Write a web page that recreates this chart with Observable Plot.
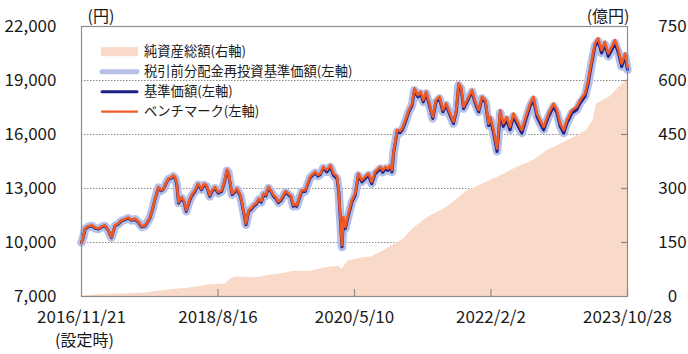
<!DOCTYPE html>
<html><head><meta charset="utf-8">
<script src="https://cdn.jsdelivr.net/npm/d3@7"></script>
<script src="https://cdn.jsdelivr.net/npm/@observablehq/plot@0.6"></script>
<style>body{margin:0;background:#fff}</style>
</head><body><div id="chart"></div>
<script>
// ---- data ----
const dates = [
"2016-11-21","2016-11-28","2016-12-08","2016-12-22","2017-01-08","2017-01-24","2017-02-08","2017-02-24","2017-03-10","2017-03-25",
"2017-04-09","2017-04-25","2017-05-10","2017-05-25","2017-06-10","2017-06-26","2017-07-11","2017-07-27","2017-08-12","2017-08-27",
"2017-09-12","2017-10-05","2017-10-17","2017-10-28","2017-11-13","2017-11-25","2017-12-06","2017-12-18","2017-12-29","2018-01-10",
"2018-01-21","2018-01-30","2018-02-06","2018-02-14","2018-03-01","2018-03-12","2018-03-22","2018-04-04","2018-04-15","2018-05-01",
"2018-05-16","2018-05-31","2018-06-12","2018-06-24","2018-07-09","2018-07-20","2018-08-02","2018-08-17","2018-09-02","2018-09-15",
"2018-09-27","2018-10-04","2018-10-12","2018-10-20","2018-11-01","2018-11-12","2018-11-28","2018-12-12","2018-12-24","2019-01-05",
"2019-01-17","2019-01-28","2019-02-10","2019-02-21","2019-03-05","2019-03-15","2019-03-26","2019-04-07","2019-04-18","2019-04-30",
"2019-05-12","2019-05-23","2019-06-04","2019-06-15","2019-06-26","2019-07-08","2019-07-20","2019-07-31","2019-08-08","2019-08-16",
"2019-08-28","2019-09-09","2019-09-24","2019-10-05","2019-10-17","2019-10-29","2019-11-10","2019-11-22","2019-12-03","2019-12-18",
"2020-01-03","2020-01-19","2020-02-03","2020-02-19","2020-02-27","2020-03-06","2020-03-13","2020-03-20","2020-03-28","2020-04-12",
"2020-04-28","2020-05-13","2020-05-28","2020-06-13","2020-06-28","2020-07-14","2020-07-29","2020-08-14","2020-09-07","2020-09-18",
"2020-09-30","2020-10-12","2020-10-23","2020-10-31","2020-11-08","2020-11-24","2020-12-08","2020-12-17","2021-01-01","2021-01-17",
"2021-02-01","2021-02-12","2021-02-28","2021-03-12","2021-03-25","2021-04-07","2021-04-22","2021-05-08","2021-05-23","2021-06-08",
"2021-06-24","2021-07-09","2021-07-27","2021-08-12","2021-08-25","2021-09-05","2021-09-16","2021-09-28","2021-10-14","2021-11-06",
"2021-11-21","2021-12-07","2021-12-22","2022-01-07","2022-01-22","2022-01-30","2022-02-14","2022-03-02","2022-03-17","2022-03-31",
"2022-04-16","2022-05-01","2022-05-17","2022-06-01","2022-06-25","2022-07-18","2022-08-02","2022-08-18","2022-09-03","2022-09-18",
"2022-10-04","2022-10-27","2022-11-19","2022-12-05","2022-12-20","2023-01-05","2023-01-20","2023-02-12","2023-03-07","2023-03-22",
"2023-04-14","2023-04-29","2023-05-15","2023-05-30","2023-06-14","2023-06-30","2023-07-15","2023-07-31","2023-08-16","2023-08-31",
"2023-09-16","2023-10-01","2023-10-17","2023-10-28"];

// ベンチマーク (円)
const benchmark = [
10000,10250,10780,10900,10950,10820,10780,10900,10950,10700,
10300,10950,11050,11230,11300,11380,11260,11320,11150,10900,
10950,11410,11900,12440,13080,12900,12990,13300,13550,13600,
13730,13600,13270,12250,12530,12300,11790,12300,12620,12900,
13270,12990,13250,13180,12620,12900,13080,12800,12900,13400,
14050,13900,13280,12720,12850,13000,12630,11790,11050,11790,
11900,12070,12200,12440,12300,12720,12650,13090,12900,12630,
12500,12270,12400,12630,12850,12720,12600,12070,12150,12070,
12500,12900,12900,13250,13650,13800,13930,13750,13830,14200,
14020,14300,13830,13650,12900,11240,9850,11420,10870,11610,
12350,12720,13830,13470,13650,13830,13370,13930,14200,14000,
14200,14100,14300,14020,15130,16250,16200,16340,16800,17360,
17730,18560,18190,18380,17910,18380,17730,16990,17910,18100,
17360,17730,17170,16710,17360,18840,18650,17540,17910,18470,
17820,17360,18100,17900,16600,16980,16240,15220,17350,16610,
16980,16420,17160,16790,16240,17160,17720,18090,17160,16790,
16420,17160,17720,17350,16610,16240,16790,17350,17540,17900,
18280,19020,20130,21060,21340,20690,21150,20500,20870,21240,
20690,19940,20500,19760];

// 基準価額 (円) — 税引前分配金再投資基準価額 coincides with it
const nav = [
10000,10230,10750,10870,10920,10790,10750,10870,10920,10670,
10270,10920,11020,11200,11270,11350,11230,11290,11120,10870,
10920,11380,11870,12410,13050,12870,12960,13270,13520,13570,
13670,13540,13210,12190,12470,12240,11730,12240,12560,12840,
13210,12930,13190,13120,12560,12840,13020,12740,12840,13340,
13990,13840,13220,12660,12790,12940,12570,11730,10990,11730,
11840,12010,12140,12380,12240,12660,12590,13030,12840,12570,
12440,12210,12340,12570,12790,12660,12540,12010,12090,12010,
12440,12840,12840,13190,13590,13740,13870,13690,13770,14140,
13920,14200,13730,13550,12800,11140,9750,11320,10770,11510,
12250,12620,13730,13370,13550,13730,13270,13830,14100,13900,
14100,14000,14200,13920,15030,16150,16100,16240,16700,17260,
17630,18460,18090,18280,17810,18280,17630,16890,17810,18000,
17260,17630,17070,16610,17260,18740,18550,17440,17810,18370,
17720,17260,18000,17800,16500,16820,16080,15060,17190,16450,
16820,16260,17000,16630,16080,17000,17560,17930,17000,16630,
16260,17000,17560,17190,16450,16080,16630,17190,17380,17740,
18120,18860,19970,20900,21180,20530,20990,20340,20710,21080,
20530,19780,20340,19600];
const reinvestedNav = nav;

// 純資産総額 (億円)
const netAssetDates = [
"2016-11-21","2016-12-20","2017-01-31","2017-04-15","2017-07-27","2017-09-15","2017-10-28","2017-12-01","2018-01-13","2018-03-30",
"2018-05-20","2018-07-01","2018-09-18","2018-10-18","2018-11-08","2019-01-05","2019-02-20","2019-04-01","2019-05-21","2019-07-01",
"2019-08-07","2019-10-23","2019-12-01","2020-01-09","2020-03-01","2020-03-13","2020-04-10","2020-06-27","2020-07-21","2020-09-07",
"2020-10-23","2020-12-24","2021-02-09","2021-04-11","2021-07-12","2021-08-28","2021-10-14","2021-12-29","2022-03-17","2022-06-01",
"2022-08-18","2022-10-19","2022-12-05","2023-03-07","2023-04-22","2023-05-22","2023-06-06","2023-08-08","2023-09-23","2023-10-28"];
const netAssets = [
1,2,4.7,6,8.3,10,14,16,19.5,23,
28,32,34.5,50,55,52,53,58,62,66,
70,70,76,81,84,76,99,108,109,122,
138,160,190,218,248,270,293,313,335,358,
378,405,418,446,462,490,535,555,583,603];

const leftTicks = [7000, 10000, 13000, 16000, 19000, 22000];
const leftTickLabels = ["7,000","10,000","13,000","16,000","19,000","22,000"];
const rightTickLabels = ["0","150","300","450","600","750"];
const gridTicks = [10000, 13000, 16000, 19000];
const xTickLabels = ["2016/11/21","2018/8/16","2020/5/10","2022/2/2","2023/10/28"];
const legendLabels = ["純資産総額(右軸)","税引前分配金再投資基準価額(左軸)","基準価額(左軸)","ベンチマーク(左軸)"];

// ---- build ----
const parse = d3.utcParse("%Y-%m-%d");
const parseTick = d3.utcParse("%Y/%m/%d");
const series = dates.map((d, i) => ({date: parse(d), nav: nav[i], re: reinvestedNav[i], bench: benchmark[i]}));
// right axis: 0–750 億円 maps onto the left axis 7,000–22,000 円
const toLeft = v => 7000 + v * 20;
const na = netAssetDates.map((d, i) => ({date: parse(d), v: toLeft(netAssets[i])}));
const xTicks = xTickLabels.map(parseTick);

const C = {area: "#f9d9c7", band: "#b5c0e8", navy: "#1c2188", orange: "#f15a24", frame: "#8c8c8c", text: "#1a1a1a"};
const FONT = "'Noto Sans CJK JP', 'Noto Sans', sans-serif";

const chart = Plot.plot({
  width: 688, height: 354,
  marginLeft: 81, marginRight: 61, marginTop: 26, marginBottom: 58,
  style: {fontFamily: FONT, fontSize: "17px", color: C.text, background: "#fff"},
  x: {type: "utc", domain: [parse("2016-11-21"), parse("2023-10-28")], axis: null},
  y: {domain: [7000, 22000], axis: null},
  marks: [
    Plot.ruleY(gridTicks, {stroke: "#8c8c8c", strokeDasharray: "1.5,1.5"}),
    Plot.areaY(na, {x: "date", y1: 7000, y2: "v", fill: C.area}),
    Plot.lineY(series, {x: "date", y: "re", stroke: C.band, strokeWidth: 8.5, strokeLinejoin: "round", strokeLinecap: "round"}),
    Plot.lineY(series, {x: "date", y: "nav", stroke: C.navy, strokeWidth: 3, strokeLinejoin: "round"}),
    Plot.lineY(series, {x: "date", y: "bench", stroke: C.orange, strokeWidth: 2.6, strokeLinejoin: "round"}),
    Plot.frame({stroke: C.frame, strokeWidth: 1.2}),
    Plot.tickY(gridTicks, {y: d => d, insetLeft: 540, stroke: C.frame, strokeWidth: 1.2}),
    Plot.tickX(xTicks.slice(1), {x: d => d, insetTop: 263, stroke: C.frame, strokeWidth: 1.2}),
    Plot.text(leftTicks, {y: d => d, text: (d, i) => leftTickLabels[i], frameAnchor: "left", dx: -25, textAnchor: "end", fontSize: 17, fill: C.text}),
    Plot.text(leftTicks, {y: d => d, text: (d, i) => rightTickLabels[i], frameAnchor: "right", dx: 45, textAnchor: "middle", fontSize: 17, fill: C.text}),
    Plot.text(xTicks, {x: d => d, text: (d, i) => xTickLabels[i], frameAnchor: "bottom", dy: 26, fontSize: 17, fill: C.text}),
    Plot.text(["(設定時)"], {x: () => xTicks[0], text: d => d, frameAnchor: "bottom", dy: 49, dx: 3, fontSize: 16, fill: C.text}),
    Plot.text(["(円)"], {text: d => d, frameAnchor: "top-left", dx: 6, dy: -16, textAnchor: "start", fontSize: 16, fill: C.text}),
    Plot.text(["(億円)"], {text: d => d, frameAnchor: "top-right", dx: 2, dy: -16, textAnchor: "end", fontSize: 16, fill: C.text})
  ]
});
document.getElementById("chart").appendChild(chart);

// ---- legend (inside plot, top-left) ----
const svg = d3.select(chart);
const lg = svg.append("g").attr("font-family", FONT).attr("font-size", 13.3).attr("fill", C.text).attr("text-anchor", "start");
const rowY = [51.7, 71.7, 91.7, 111.7];
const swatches = [
  {type: "rect", color: C.area},
  {type: "line", color: C.band, w: 5},
  {type: "line", color: C.navy, w: 3},
  {type: "line", color: C.orange, w: 2.2}
];
swatches.forEach((s, i) => {
  const y = rowY[i];
  if (s.type === "rect") {
    lg.append("rect").attr("x", 101).attr("y", y - 4.5).attr("width", 37).attr("height", 9).attr("fill", s.color);
  } else {
    lg.append("line").attr("x1", 102).attr("x2", 137).attr("y1", y).attr("y2", y)
      .attr("stroke", s.color).attr("stroke-width", s.w).attr("stroke-linecap", "round");
  }
  lg.append("text").attr("x", 144).attr("y", y).attr("dy", "0.35em").attr("text-anchor", "start").text(legendLabels[i]);
});
</script>
</body></html>
